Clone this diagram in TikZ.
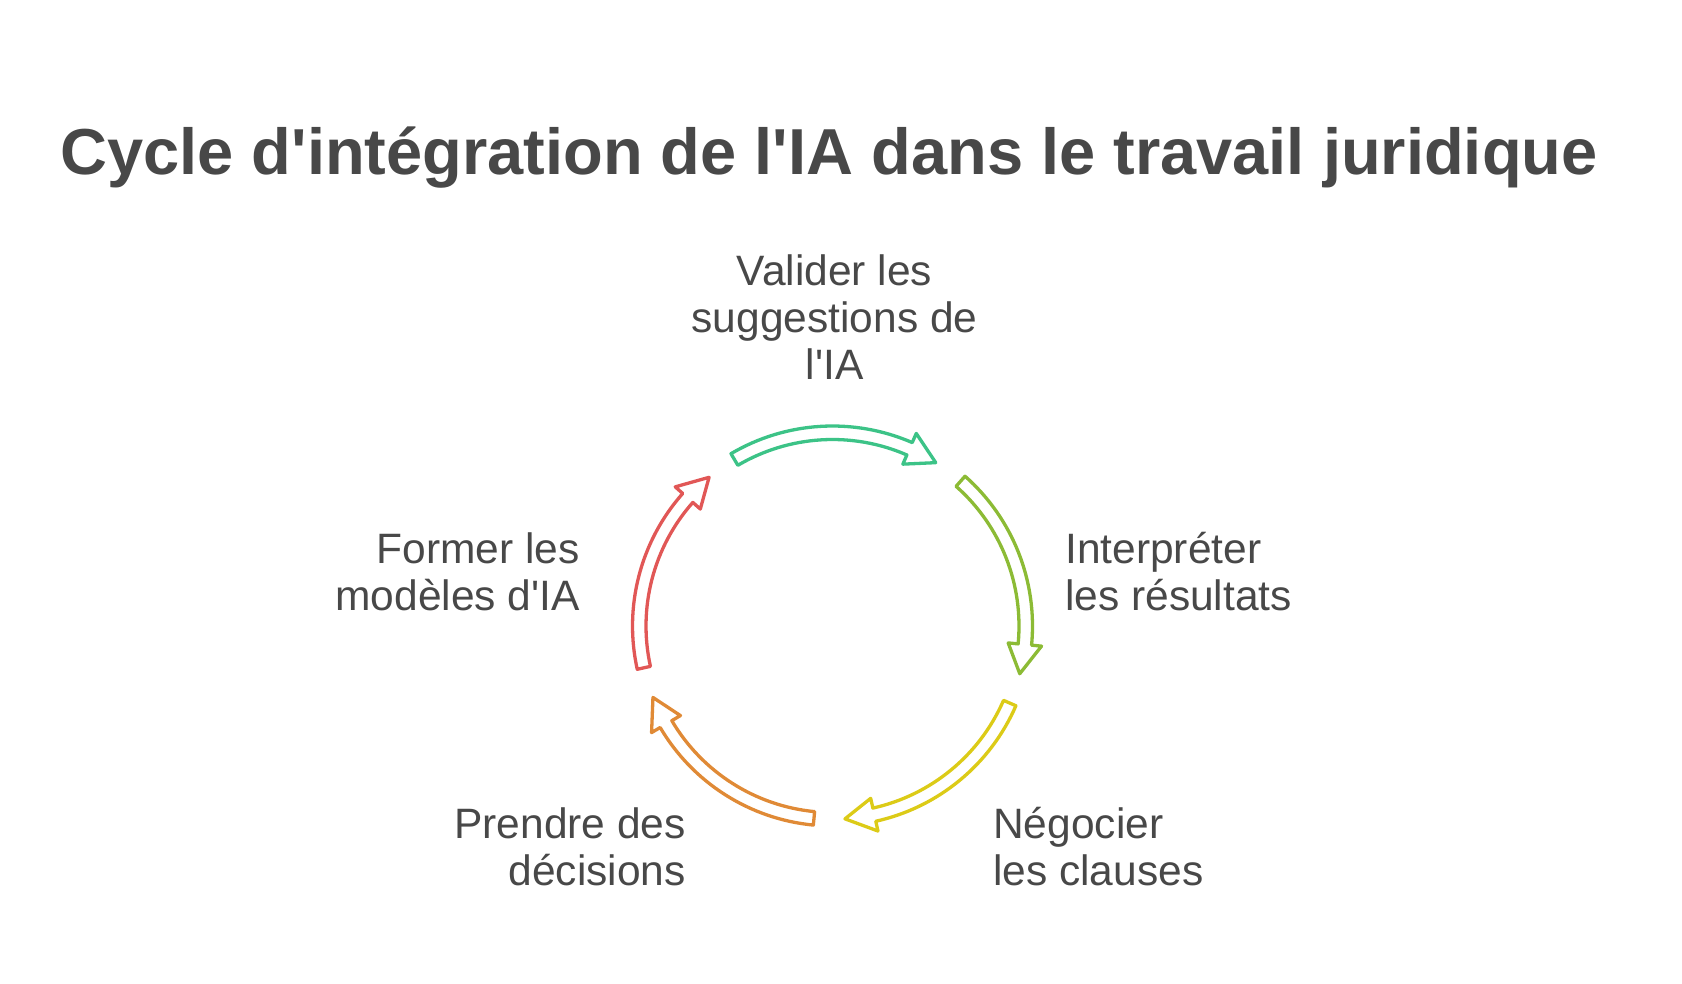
\documentclass[tikz,border=0pt]{standalone}
\usepackage{fontspec}
\setmainfont{Liberation Sans}[Ligatures=TeXOff]
\definecolor{txt}{HTML}{484848}
\definecolor{cgreen}{HTML}{3CC387}
\definecolor{colive}{HTML}{8CBB35}
\definecolor{cyellow}{HTML}{DCCB17}
\definecolor{corange}{HTML}{E08A36}
\definecolor{cred}{HTML}{E15756}
\tikzset{
  cyc/.style={line width=3.3pt, line join=round, fill=white},
  lbl/.style={text=txt, inner sep=0pt, font=\fontsize{42.5}{47.5}\selectfont},
  ttl/.style={text=txt, inner sep=0pt, font=\fontsize{65}{72}\selectfont\bfseries}
}
\newcommand\cyclearrow[4]{%
  \draw[cyc,draw=#1] (#2:200) arc[start angle=#2,end angle=#3,radius=200]
    -- (#3:210) -- (#4:193.25) -- (#3:176.5) -- (#3:186.5)
    arc[start angle=#3,end angle=#2,radius=186.5] -- cycle;}
\begin{document}
\begin{tikzpicture}[x=1pt,y=1pt]
\path[use as bounding box] (0,0) rectangle (1682,-984);
\node[ttl, anchor=base] (title) at (829,-175) {Cycle d'intégration de l'IA dans le travail juridique};
\begin{scope}[shift={(832.5,-626)}]
  \cyclearrow{cgreen}{120.5}{66.5}{57.7}
  \cyclearrow{colive}{48.5}{-5.5}{-14.3}
  \cyclearrow{cyellow}{-23.5}{-77.5}{-86.3}
  \cyclearrow{corange}{-95.5}{-149.5}{-158.3}
  \cyclearrow{cred}{192.5}{138.5}{129.7}
\end{scope}
\node[lbl, align=center, anchor=base] (valider) at (834.5,-380) {Valider les\\suggestions de\\l'IA};
\node[lbl, align=left, anchor=base west] (interpreter) at (1065,-610.5) {Interpréter\\les résultats};
\node[lbl, align=left, anchor=base west] (negocier) at (993,-885.5) {Négocier\\les clauses};
\node[lbl, align=right, anchor=base east] (prendre) at (686,-885.5) {Prendre des\\décisions};
\node[lbl, align=right, anchor=base east] (former) at (580,-610.5) {Former les\\modèles d'IA};
\end{tikzpicture}
\end{document}
